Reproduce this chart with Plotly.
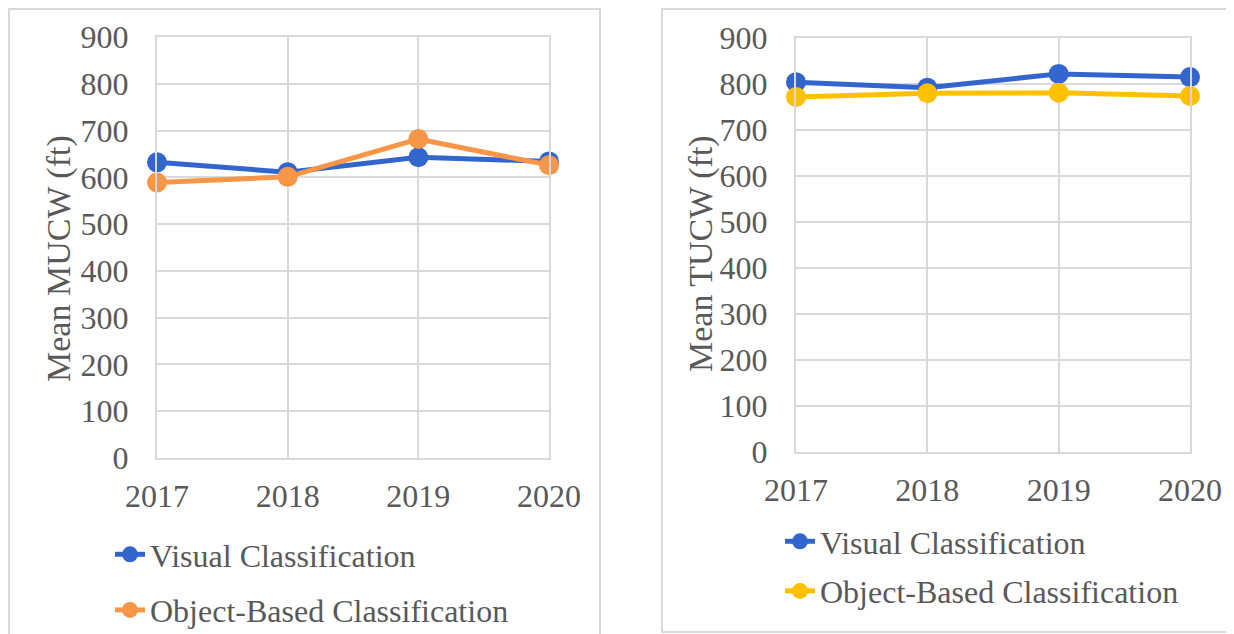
import plotly.graph_objects as go

years = [2017, 2018, 2019, 2020]
mucw_visual = [632, 611, 643, 634]
mucw_object = [589, 601, 682, 626]
tucw_visual = [804, 792, 822, 815]
tucw_object = [772, 780, 781, 774]
y_ticks = [0, 100, 200, 300, 400, 500, 600, 700, 800, 900]

# the page body adds an 8px offset; the figure is sized to fill the rest of the window
OFF = 8
W, H = 1234 - OFF, 634 - OFF
BLUE = "#3366CC"
ORANGE = "#F79646"
YELLOW = "#FFC000"
TXT = "#595959"
GRID = "#D9D9D9"
FONT = "Liberation Serif, Times New Roman, serif"

def px(x):
    return (x - OFF) / W

def py(y):
    return 1 - (y - OFF) / H

fig = go.Figure()

def add(xax, yax, ys, name, color, legend):
    fig.add_trace(go.Scatter(
        x=years, y=ys, name=name, mode="lines+markers",
        xaxis=xax, yaxis=yax, legend=legend, legendgroup=legend + name,
        line=dict(color=color, width=5),
        marker=dict(color=color, size=20),
        cliponaxis=False,
    ))

add("x", "y", mucw_visual, "Visual Classification", BLUE, "legend")
add("x", "y", mucw_object, "Object-Based Classification", ORANGE, "legend")
add("x2", "y2", tucw_visual, "Visual Classification", BLUE, "legend2")
add("x2", "y2", tucw_object, "Object-Based Classification", YELLOW, "legend2")

xcommon = dict(range=[2017, 2020], tickmode="array", tickvals=years,
               ticktext=[str(y) for y in years], showgrid=True, gridcolor=GRID,
               gridwidth=2, showline=True, mirror=True, linecolor=GRID, linewidth=2,
               zeroline=False, ticks="outside", ticklen=9, tickcolor="rgba(0,0,0,0)",
               tickfont=dict(family=FONT, size=32, color=TXT), fixedrange=True,
               automargin=False)
ycommon = dict(range=[0, 900], tickmode="array", tickvals=y_ticks, showgrid=True,
               gridcolor=GRID, gridwidth=2, showline=True, mirror=True, linecolor=GRID,
               linewidth=2, zeroline=False, ticks="outside", ticklen=20,
               tickcolor="rgba(0,0,0,0)",
               tickfont=dict(family=FONT, size=32, color=TXT), fixedrange=True,
               automargin=False)

fig.update_layout(
    width=W, height=H,
    margin=dict(l=0, r=0, t=0, b=0, autoexpand=False),
    paper_bgcolor="white", plot_bgcolor="white",
    font=dict(family=FONT, color=TXT),
    xaxis=dict(domain=[px(157), px(549)], anchor="y", **xcommon),
    yaxis=dict(domain=[py(458), py(37)], anchor="x", **ycommon),
    xaxis2=dict(domain=[px(796), px(1190)], anchor="y2", **xcommon),
    yaxis2=dict(domain=[py(452), py(38)], anchor="x2", **ycommon),
    legend=dict(x=px(110), y=py(527), xanchor="left", yanchor="top",
                font=dict(family=FONT, size=32, color=TXT), tracegroupgap=11,
                bgcolor="rgba(0,0,0,0)"),
    legend2=dict(x=px(780), y=py(514), xanchor="left", yanchor="top",
                 font=dict(family=FONT, size=32, color=TXT), tracegroupgap=5,
                 bgcolor="rgba(0,0,0,0)"),
    annotations=[
        dict(text="Mean MUCW (ft)", textangle=-90, xref="paper", yref="paper",
             x=px(59), y=py(259), xanchor="center", yanchor="middle", showarrow=False,
             font=dict(family=FONT, size=34, color=TXT)),
        dict(text="Mean TUCW (ft)", textangle=-90, xref="paper", yref="paper",
             x=px(701), y=py(254), xanchor="center", yanchor="middle", showarrow=False,
             font=dict(family=FONT, size=34, color=TXT)),
    ],
    shapes=[
        dict(type="rect", xref="paper", yref="paper", x0=px(9), x1=px(600), y0=py(660), y1=py(9),
             line=dict(color=GRID, width=2), layer="below"),
        dict(type="rect", xref="paper", yref="paper", x0=px(662), x1=px(1260), y0=py(632), y1=py(9),
             line=dict(color=GRID, width=2), layer="below"),
    ],
)

fig.write_html("out.html",
               post_script="document.documentElement.style.overflow='hidden';")
